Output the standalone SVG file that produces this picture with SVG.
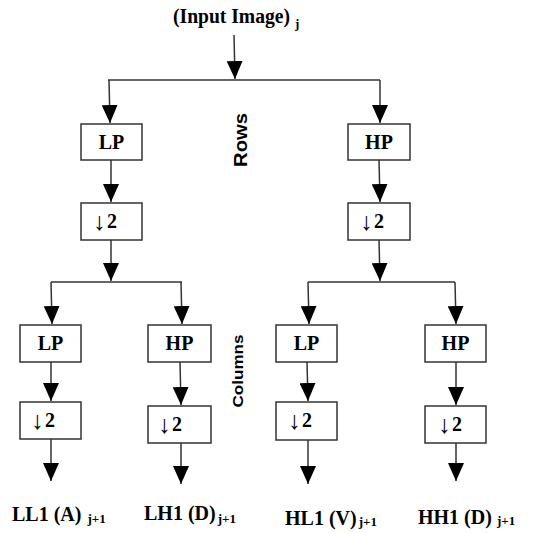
<svg xmlns="http://www.w3.org/2000/svg" width="548" height="533" viewBox="0 0 548 533">
<defs>
<marker id="ah" viewBox="0 0 18 16" refX="18" refY="8" markerWidth="18" markerHeight="16" markerUnits="userSpaceOnUse" orient="auto">
<path d="M0,0 L18,8 L0,16 z" fill="#000"/>
</marker>
<style>
.box{fill:#fff;stroke:#333;stroke-width:1.5}
.ln{fill:none;stroke:#333;stroke-width:1.5}
.ar{fill:none;stroke:#333;stroke-width:1.5;marker-end:url(#ah)}
.t{font-family:"Liberation Serif","Times New Roman",serif;font-weight:bold;font-size:20px;fill:#000}
.c{text-anchor:middle}
.sub{font-size:13px}
.arw{font-family:"Liberation Serif","DejaVu Serif",serif;font-weight:normal;font-size:25px;fill:#000}
.s{font-family:"Liberation Sans",Arial,sans-serif;font-weight:bold;fill:#000;text-anchor:middle}
</style>
</defs>
<rect width="548" height="533" fill="#fff"/>
<g id="connectors">
<line class="ar" x1="234" y1="35" x2="235" y2="79"/>
<line class="ln" x1="108" y1="80" x2="380" y2="80"/>
<line class="ar" x1="109" y1="80" x2="110" y2="123"/>
<line class="ar" x1="380" y1="80" x2="380" y2="123"/>
<line class="ar" x1="111" y1="160" x2="111" y2="202"/>
<line class="ar" x1="379" y1="160" x2="380" y2="202"/>
<line class="ar" x1="111" y1="240" x2="111" y2="281"/>
<line class="ar" x1="379" y1="240" x2="380" y2="281"/>
<line class="ln" x1="51" y1="282" x2="182" y2="282"/>
<line class="ln" x1="308" y1="282" x2="455" y2="282"/>
<line class="ar" x1="51" y1="282" x2="52" y2="324"/>
<line class="ar" x1="181" y1="282" x2="182" y2="324"/>
<line class="ar" x1="308" y1="282" x2="309" y2="324"/>
<line class="ar" x1="455" y1="282" x2="456" y2="324"/>
<line class="ar" x1="51" y1="362" x2="51" y2="401"/>
<line class="ar" x1="180" y1="362" x2="181" y2="405"/>
<line class="ar" x1="307" y1="362" x2="308" y2="401"/>
<line class="ar" x1="456" y1="362" x2="456" y2="405"/>
<line class="ar" x1="51" y1="439" x2="51" y2="481"/>
<line class="ar" x1="181" y1="443" x2="181" y2="484"/>
<line class="ar" x1="308" y1="440" x2="308" y2="484"/>
<line class="ar" x1="456" y1="443" x2="456" y2="481"/>
</g>
<g id="input"><text class="t" x="173" y="23" textLength="117" lengthAdjust="spacingAndGlyphs">(Input Image)</text><text class="t sub" x="295" y="28">j</text></g>
<g id="rows-label"><text class="s" font-size="19" transform="translate(247,140) rotate(-90)" textLength="54" lengthAdjust="spacingAndGlyphs">Rows</text></g>
<g id="cols-label"><text class="s" font-size="15" transform="translate(243,371) rotate(-90)" textLength="73" lengthAdjust="spacingAndGlyphs">Columns</text></g>
<g id="lp1"><rect class="box" x="81" y="124" width="61" height="36"/><text class="t c" x="111.5" y="149">LP</text></g>
<g id="hp1"><rect class="box" x="348" y="124" width="62" height="36"/><text class="t c" x="379" y="149">HP</text></g>
<g id="ds1"><rect class="box" x="81" y="203" width="61" height="37"/><text class="arw" x="93" y="230">↓</text><text class="t" x="107" y="228">2</text></g>
<g id="ds2"><rect class="box" x="348" y="203" width="62" height="37"/><text class="arw" x="360" y="230">↓</text><text class="t" x="374" y="228">2</text></g>
<g id="lp2"><rect class="box" x="20" y="325" width="61" height="37"/><text class="t c" x="50.5" y="350">LP</text></g>
<g id="hp2"><rect class="box" x="148" y="325" width="63" height="37"/><text class="t c" x="179.5" y="350">HP</text></g>
<g id="lp3"><rect class="box" x="276" y="325" width="61" height="37"/><text class="t c" x="306.5" y="350">LP</text></g>
<g id="hp3"><rect class="box" x="425" y="325" width="61" height="37"/><text class="t c" x="455.5" y="350">HP</text></g>
<g id="ds3"><rect class="box" x="20" y="402" width="61" height="37"/><text class="arw" x="31" y="429">↓</text><text class="t" x="45" y="427">2</text></g>
<g id="ds4"><rect class="box" x="148" y="406" width="63" height="37"/><text class="arw" x="158" y="433">↓</text><text class="t" x="172" y="431">2</text></g>
<g id="ds5"><rect class="box" x="276" y="402" width="61" height="38"/><text class="arw" x="288" y="429">↓</text><text class="t" x="302" y="427">2</text></g>
<g id="ds6"><rect class="box" x="425" y="406" width="61" height="37"/><text class="arw" x="438" y="433">↓</text><text class="t" x="452" y="431">2</text></g>
<g id="ll"><text class="t" x="12" y="521">LL1 (A)<tspan class="sub" dx="6" dy="2">j+1</tspan></text></g>
<g id="lh"><text class="t" x="144" y="520">LH1 (D)<tspan class="sub" dx="2" dy="3">j+1</tspan></text></g>
<g id="hl"><text class="t" x="285" y="525">HL1 (V)<tspan class="sub" dx="2" dy="1">j+1</tspan></text></g>
<g id="hh"><text class="t" x="418" y="524">HH1 (D)<tspan class="sub" dx="5" dy="1">j+1</tspan></text></g>
</svg>
